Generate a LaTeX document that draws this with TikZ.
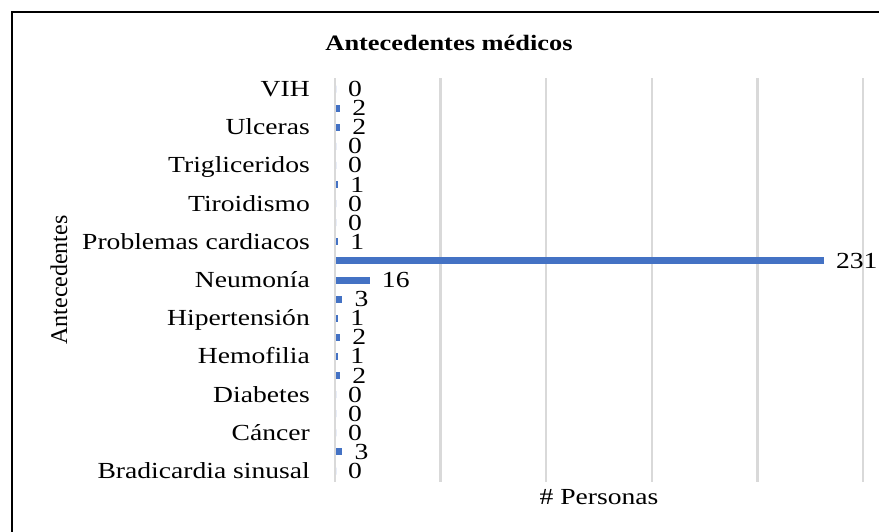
\documentclass[tikz,border=0pt]{standalone}
\usepackage{fontspec}
\setmainfont[FakeStretch=1.2]{Liberation Serif}
\newfontfamily\axisfont{Liberation Serif}
\definecolor{barblue}{HTML}{4472C4}
\definecolor{gridgray}{HTML}{D9D9D9}
\begin{document}
\begin{tikzpicture}
			[x=1pt,y=-1pt,
			 txt/.style={inner sep=0pt,font=\fontsize{23}{25}\selectfont},
			 bar/.style={fill=barblue},
			 grid/.style={draw=gridgray,line width=2.5pt}]
			\useasboundingbox (0,0) rectangle (879,531);
			\begin{scope}
				\clip (0,0) rectangle (879,531);
				\draw[line width=2pt] (12,12) rectangle (900,560);
			\end{scope}
			\node[txt,name=title,font=\fontsize{22}{24}\selectfont\bfseries]at(449,43){Antecedentes médicos};
			% gridlines
			\foreach \k in {0,...,5}
				\draw[grid] (335+\k*105.6,78) -- (335+\k*105.6,482);
			% bars and values
			\foreach \v [count=\i] in {0,2,2,0,0,1,0,0,1,231,16,3,1,2,1,2,0,0,0,3,0}{
				\fill[bar] (336,89+\i*19.1-19.1-3.5) rectangle (336+\v*2.112,89+\i*19.1-19.1+3.5);
				\node[txt,anchor=base west,name=v\i]at(348+\v*2.112,96.5+\i*19.1-19.1){\v};
			}
			% category labels
			\foreach \t [count=\j] in {VIH,Ulceras,Trigliceridos,Tiroidismo,Problemas cardiacos,Neumonía,Hipertensión,Hemofilia,Diabetes,Cáncer,Bradicardia sinusal}
				\node[txt,anchor=base east,name=c\j]at(310,96.5+\j*38.2-38.2){\t};
			\node[txt,name=xlabel,anchor=base]at(599,504){\# Personas};
			\node[inner sep=0pt,name=ylabel,font=\axisfont\fontsize{24}{26}\selectfont,rotate=90,anchor=base]at(67,280){Antecedentes};
		\end{tikzpicture}
\end{document}
